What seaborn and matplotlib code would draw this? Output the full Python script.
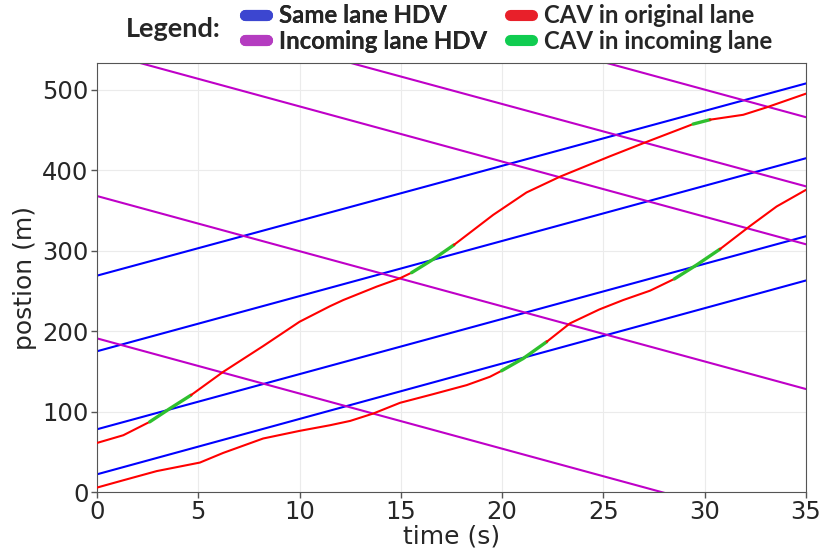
import numpy as np
import pandas as pd
import matplotlib
matplotlib.use("Agg")
import matplotlib.pyplot as plt
from matplotlib.lines import Line2D
import seaborn as sns

# ---- data -------------------------------------------------------------
t_span = [0.0, 35.0]

# human-driven vehicles: position (m) at t=0 and t=35 s
same_lane_start = [22, 78, 175, 269]
same_lane_end = [263, 318, 415, 508]
incoming_lane_start = [191, 368, 548, 619, 706]
incoming_lane_end = [-49, 128, 308, 380, 466]

# connected automated vehicles: sampled trajectories
cav1_time = [0, 1.3, 2.95, 5.08, 6.23, 8.2, 10.0, 11.5, 12.5, 13.64, 14.96, 16.6,
             18.25, 19.4, 19.97, 21.04, 22.2, 23.35, 24.8, 25.98, 27.3, 28.5,
             29.6, 30.75, 32.2, 33.55, 35]
cav1_pos = [5.5, 14.6, 26, 36.6, 48.6, 66.5, 76, 83, 88.4, 97.6, 110.9, 121.7,
            132.9, 143.3, 150.7, 166, 186.8, 209.7, 227, 238.7, 250.3, 264.9,
            282.3, 301.9, 330, 355, 375.7]
cav1_incoming = [(19.97, 22.2), (28.5, 30.75)]

cav2_time = [0, 1.3, 2.6, 3.6, 4.64, 6.23, 8.2, 10.0, 11.5, 12.16, 13.8, 14.96,
             15.53, 16.6, 17.62, 19.56, 21.2, 22.85, 25.3, 27.1, 29.43, 30.26,
             31.9, 33.05, 35]
cav2_pos = [61, 70.6, 87.2, 103.8, 120.4, 149.4, 181.4, 211.7, 231, 238.7, 255.3,
            265.8, 272.7, 289.4, 307.2, 344.6, 372.4, 392, 417.2, 435, 457.5,
            462.9, 469, 478.2, 495.3]
cav2_incoming = [(2.6, 4.64), (15.53, 17.62), (29.43, 30.26)]

legend_labels = ["Same lane HDV", "Incoming lane HDV",
                 "CAV in original lane", "CAV in incoming lane"]

# ---- colours ----------------------------------------------------------
c_same, c_inc, c_orig, c_cav_inc = "#0000ff", "#bf00c8", "#ff0000", "#2ec02e"
h_same, h_inc, h_orig, h_cav_inc = "#3c46d0", "#b43cc0", "#e8202a", "#10cc50"

# ---- style ------------------------------------------------------------
sns.set_style("whitegrid", {
    "grid.color": "#ebebeb",
    "axes.edgecolor": "#555555",
    "xtick.bottom": True,
    "ytick.left": True,
})
plt.rcParams["font.family"] = ["DejaVu Sans"]

fig = plt.figure(figsize=(8.2, 5.54), dpi=100)
ax = fig.add_axes([97 / 820, 1 - 492 / 554, (806 - 97) / 820, (492 - 63) / 554])


def hdv_frame(starts, ends):
    rows = []
    for i, (a, b) in enumerate(zip(starts, ends)):
        rows.append({"veh": i, "t": t_span[0], "pos": a})
        rows.append({"veh": i, "t": t_span[1], "pos": b})
    return pd.DataFrame(rows)


sns.lineplot(data=hdv_frame(same_lane_start, same_lane_end), x="t", y="pos",
             units="veh", estimator=None, color=c_same, lw=1.5, ax=ax)
sns.lineplot(data=hdv_frame(incoming_lane_start, incoming_lane_end), x="t", y="pos",
             units="veh", estimator=None, color=c_inc, lw=1.5, ax=ax)


def draw_cav(times, pos, windows):
    times = np.asarray(times)
    pos = np.asarray(pos)
    cuts = [times[0]]
    for a, b in windows:
        cuts += [a, b]
    cuts.append(times[-1])
    for k in range(len(cuts) - 1):
        lo, hi = cuts[k], cuts[k + 1]
        m = (times >= lo - 1e-9) & (times <= hi + 1e-9)
        green = k % 2 == 1
        sns.lineplot(x=times[m], y=pos[m], sort=False, estimator=None,
                     color=c_cav_inc if green else c_orig,
                     lw=2.4 if green else 1.5, ax=ax, zorder=3)


draw_cav(cav1_time, cav1_pos, cav1_incoming)
draw_cav(cav2_time, cav2_pos, cav2_incoming)

ax.set_xlim(0, 35)
ax.set_ylim(0, 1.05 * max(same_lane_end))
ax.set_xticks(np.arange(0, 36, 5))
ax.set_yticks(np.arange(0, 501, 100))
ax.tick_params(labelsize=17.5, length=4, width=1, color="#555555", pad=2)
ax.set_xlabel("time (s)", fontsize=18, labelpad=0)
ax.set_ylabel("postion (m)", fontsize=18, labelpad=4)

# ---- legend above the axes ------------------------------------------
def handle(c):
    return Line2D([], [], color=c, lw=8, solid_capstyle="round")


leg_font = {"family": ["Lato", "DejaVu Sans"], "weight": "bold", "size": 17.3}
fig.text(126 / 820, 1 - 29 / 554, "Legend:", ha="left", va="center",
         fontdict={**leg_font, "size": 19.5})
leg_y = 1 - 28.5 / 554
common = dict(loc="center left", frameon=False, prop=leg_font, handlelength=0.9,
              handletextpad=0.48, labelspacing=0.1, borderpad=0, borderaxespad=0)
leg1 = fig.legend([handle(h_same), handle(h_inc)], legend_labels[:2],
                  bbox_to_anchor=(245.5 / 820, leg_y), **common)
fig.add_artist(leg1)
fig.legend([handle(h_orig), handle(h_cav_inc)], legend_labels[2:],
           bbox_to_anchor=(510.5 / 820, leg_y), **common)

fig.savefig("out.png", dpi=100)
